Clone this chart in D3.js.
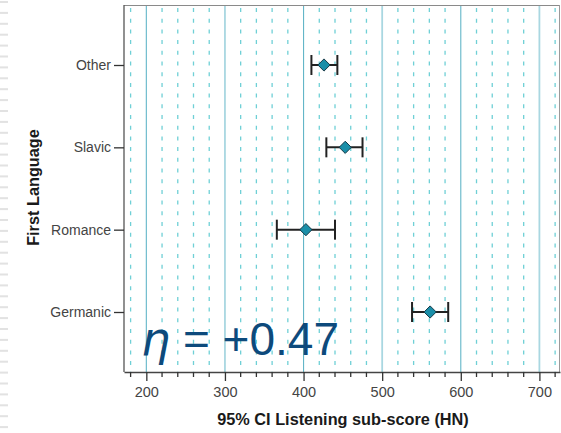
<!DOCTYPE html>
<html>
<head>
<meta charset="utf-8">
<script src="https://cdn.jsdelivr.net/npm/d3@7"></script>
<style>
  html, body { margin: 0; padding: 0; background: #fff; }
  svg { display: block; font-family: Arial, "Liberation Sans", sans-serif; }
</style>
</head>
<body>
<svg id="chart" width="561" height="433"></svg>
<script>
// Groups and their 95% confidence intervals for the listening sub-score
const groups = ["Other", "Slavic", "Romance", "Germanic"];
const means  = [426, 453, 403, 561];
const lower  = [410, 429, 366, 538];
const upper  = [443, 475, 440, 584];
const majorTicks = [200, 300, 400, 500, 600, 700];
const minorTicks = [180, 220, 240, 260, 280, 320, 340, 360, 380, 420, 440, 460, 480,
                    520, 540, 560, 580, 620, 640, 660, 680, 720];
const effectLabel = "+0.47";

const svg = d3.select("#chart");
const W = 561, H = 433;
const m = { left: 124, right: 1, top: 5, bottom: 61 };
const plotR = W - m.right, plotB = H - m.bottom;

const x = d3.scaleLinear().domain([171.6, 726.2]).range([m.left, plotR]);
const y = d3.scalePoint().domain(groups).range([65, 312]);

// faint stripes along the left edge
svg.append("g").selectAll("rect")
  .data(d3.range(0, 40))
  .join("rect")
  .attr("x", 0).attr("y", d => 1 + d * 10.9)
  .attr("width", 8).attr("height", 2)
  .attr("fill", "#e2e2e2");

// minor grid (dashed)
svg.append("g").selectAll("line")
  .data(minorTicks)
  .join("line")
  .attr("x1", d => x(d)).attr("x2", d => x(d))
  .attr("y1", m.top + 3).attr("y2", plotB)
  .attr("stroke", "#6fd0d6").attr("stroke-width", 1.3)
  .attr("stroke-dasharray", "4,6.7");

// major grid (solid)
svg.append("g").selectAll("line")
  .data(majorTicks)
  .join("line")
  .attr("x1", d => x(d)).attr("x2", d => x(d))
  .attr("y1", m.top).attr("y2", plotB)
  .attr("stroke", (d, i) => i % 2 ? "#a9d7e1" : "#63b6c8")
  .attr("stroke-width", (d, i) => i % 2 ? 1.8 : 1.1);

// frame
svg.append("line").attr("x1", m.left).attr("x2", plotR).attr("y1", m.top + 0.5).attr("y2", m.top + 0.5)
  .attr("stroke", "#8a8a8a").attr("stroke-width", 1.2);
svg.append("line").attr("x1", plotR - 0.5).attr("x2", plotR - 0.5).attr("y1", m.top).attr("y2", plotB)
  .attr("stroke", "#9a9a9a").attr("stroke-width", 1);

// effect size annotation
const ann = svg.append("text")
  .attr("x", 141).attr("y", 355)
  .attr("fill", "#0d4a7c")
  .attr("font-size", 46);
ann.append("tspan").attr("font-style", "italic").attr("font-family", "'DejaVu Sans', sans-serif").text("η");
ann.append("tspan").text(" = " + effectLabel);

// x axis
const xAxis = svg.append("g").attr("transform", `translate(0,${plotB})`);
xAxis.call(d3.axisBottom(x).tickValues(majorTicks).tickSize(9).tickSizeOuter(0).tickPadding(6));
xAxis.select(".domain").attr("stroke", "#444").attr("stroke-width", 1.3);
xAxis.selectAll(".tick line").attr("stroke", "#333").attr("stroke-width", 1.3);
xAxis.selectAll("text").attr("fill", "#444").attr("font-size", 14.5)
  .attr("font-family", "Arial, 'Liberation Sans', sans-serif");
xAxis.append("g").selectAll("line")
  .data(minorTicks)
  .join("line")
  .attr("x1", d => x(d)).attr("x2", d => x(d))
  .attr("y1", 0).attr("y2", 5)
  .attr("stroke", "#333").attr("stroke-width", 1.3);

// y axis
const yAxis = svg.append("g").attr("transform", `translate(${m.left},0)`);
yAxis.call(d3.axisLeft(y).tickSize(10).tickSizeOuter(0).tickPadding(3));
yAxis.select(".domain").attr("d", `M0,${m.top}V${plotB}`).attr("stroke", "#555").attr("stroke-width", 1.3);
yAxis.selectAll(".tick line").attr("stroke", "#333").attr("stroke-width", 1.3);
yAxis.selectAll("text").attr("fill", "#444").attr("font-size", 14)
  .attr("font-family", "Arial, 'Liberation Sans', sans-serif");

// axis titles
svg.append("text")
  .attr("x", (m.left + plotR) / 2 + 1).attr("y", 425)
  .attr("text-anchor", "middle").attr("font-size", 16.3).attr("font-weight", "bold").attr("fill", "#1a1a1a")
  .text("95% CI Listening sub-score (HN)");
svg.append("text")
  .attr("transform", `translate(39,${(m.top + plotB) / 2 - 1}) rotate(-90)`)
  .attr("text-anchor", "middle").attr("font-size", 16.3).attr("font-weight", "bold").attr("fill", "#1a1a1a")
  .text("First Language");

// error bars
const bars = svg.append("g").selectAll("g")
  .data(groups)
  .join("g")
  .attr("transform", d => `translate(0,${y(d)})`);
bars.append("line")
  .attr("x1", (d, i) => x(lower[i])).attr("x2", (d, i) => x(upper[i]))
  .attr("stroke", "#222").attr("stroke-width", 2);
bars.append("line")
  .attr("x1", (d, i) => x(lower[i])).attr("x2", (d, i) => x(lower[i]))
  .attr("y1", -10).attr("y2", 10)
  .attr("stroke", "#222").attr("stroke-width", 2);
bars.append("line")
  .attr("x1", (d, i) => x(upper[i])).attr("x2", (d, i) => x(upper[i]))
  .attr("y1", -10).attr("y2", 10)
  .attr("stroke", "#222").attr("stroke-width", 2);
bars.append("path")
  .attr("d", d3.symbol(d3.symbolDiamond2, 95))
  .attr("transform", (d, i) => `translate(${x(means[i])},0)`)
  .attr("fill", "#1a8ea8").attr("stroke", "#163a48").attr("stroke-width", 1);
</script>
</body>
</html>
